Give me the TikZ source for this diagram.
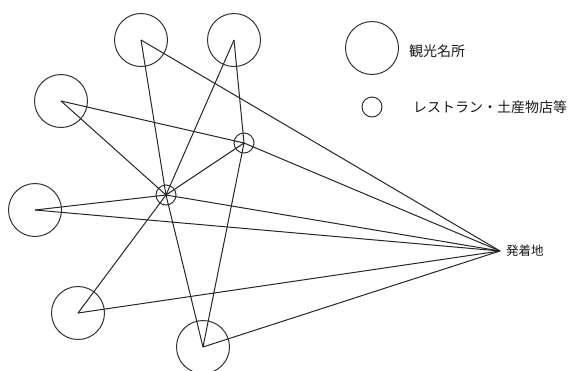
\documentclass[tikz,border=0pt]{standalone}
\usepackage{fontspec}
\newfontfamily\jpfont{Noto Sans CJK JP}
\begin{document}
\begin{tikzpicture}[x=1pt,y=-1pt,
  ln/.style={draw=black!85, line width=1pt},
  big/.style={circle, draw=black!80, line width=1pt, minimum size=53pt, inner sep=0pt},
  small/.style={circle, draw=black!80, line width=1pt, minimum size=20pt, inner sep=0pt},
  lbl/.style={font=\jpfont\fontsize{14}{16}\selectfont, text=black!90, anchor=west, inner sep=0pt}]
\useasboundingbox (0,0) rectangle (581,370);
\begin{scope}
\clip (0,0) rectangle (581,370);
% places
\node[big] (t)  at (141,40) {};
\node[big] (tr) at (234,40) {};
\node[big] (lu) at (61,101) {};
\node[big] (lm) at (35,210) {};
\node[big] (ll) at (78,313) {};
\node[big] (bt) at (203,347) {};
\node[small] (a) at (244,143) {};
\node[small] (b) at (166,195) {};
\coordinate (hub) at (500,251);
% connectors
\draw[ln] (t.center) -- (b.center);
\draw[ln] (t.center) -- (hub);
\draw[ln] (tr.center) -- (b.center);
\draw[ln] (tr.center) -- (a.center);
\draw[ln] (lu.center) -- (a.center);
\draw[ln] (lu.center) -- (b.center);
\draw[ln] (lm.center) -- (b.center);
\draw[ln] (lm.center) -- (hub);
\draw[ln] (ll.center) -- (b.center);
\draw[ln] (ll.center) -- (hub);
\draw[ln] (bt.center) -- (b.center);
\draw[ln] (bt.center) -- (a.center);
\draw[ln] (bt.center) -- (hub);
\draw[ln] (a.center) -- (b.center);
\draw[ln] (a.center) -- (hub);
\draw[ln] (b.center) -- (hub);
\end{scope}
\node[lbl, font=\jpfont\fontsize{12.5}{14}\selectfont] (hubl) at (506,251) {発着地};
% legend
\node[big] (lgb) at (372,48) {};
\node[lbl] (lgbt) at (409,51) {観光名所};
\node[small] (lgs) at (372,107) {};
\node[lbl] (lgst) at (413,107) {レストラン・土産物店等};
\end{tikzpicture}
\end{document}
